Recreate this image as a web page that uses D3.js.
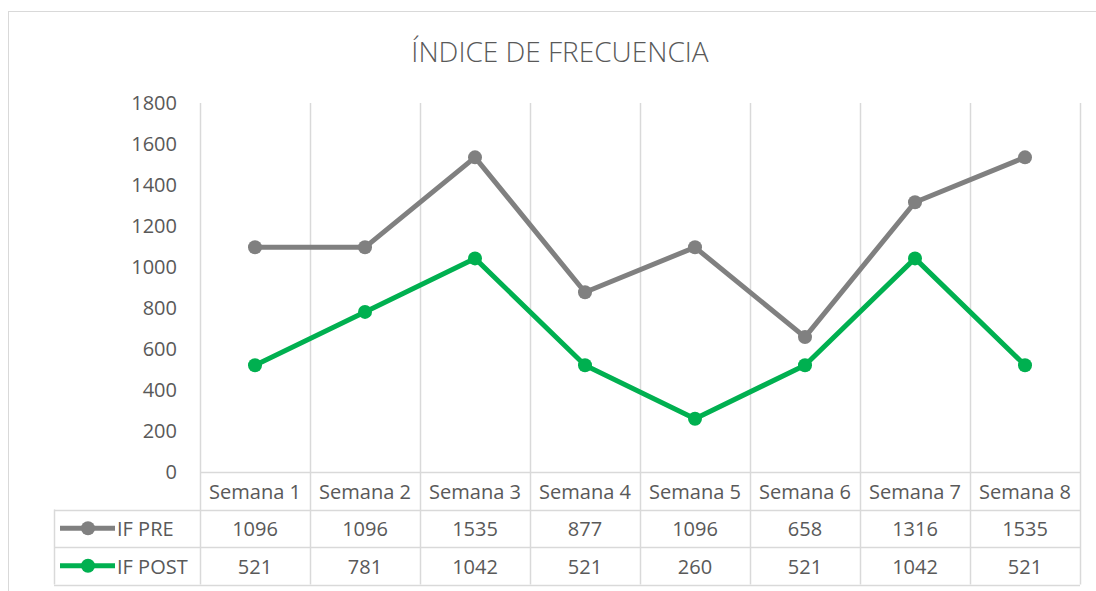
<!DOCTYPE html>
<html lang="es">
<head>
  <meta charset="UTF-8" />
  <title>Índice de frecuencia</title>
  <script src="https://d3js.org/d3.v7.min.js"></script>
  <style>
    body { margin: 0; background: #fff; font-family: "Open Sans", "Noto Sans", sans-serif; }
    svg { display: block; }
    text { fill: #595959; }
  </style>
</head>
<body>
  <svg id="chart" width="1096" height="591"></svg>
  <script>
    // data
    const categories = ["Semana 1", "Semana 2", "Semana 3", "Semana 4", "Semana 5", "Semana 6", "Semana 7", "Semana 8"];
    const ifPre = [1096, 1096, 1535, 877, 1096, 658, 1316, 1535];
    const ifPost = [521, 781, 1042, 521, 260, 521, 1042, 521];
    const yTicks = [0, 200, 400, 600, 800, 1000, 1200, 1400, 1600, 1800];

    const series = [
      { name: "IF PRE", values: ifPre, color: "#808080" },
      { name: "IF POST", values: ifPost, color: "#00B050" }
    ];

    const W = 1096, H = 591;
    const plot = { left: 200, right: 1080, top: 103, bottom: 472 };
    const rowH = 37.5;
    const legendLeft = 54;
    const gridColor = "#d9d9d9";
    const fs = 20;

    const svg = d3.select("#chart");

    // outer chart border
    svg.append("rect")
      .attr("x", 8.5).attr("y", 11.5)
      .attr("width", W + 10).attr("height", H)
      .attr("fill", "none").attr("stroke", gridColor);

    // title
    svg.append("text")
      .attr("x", 560).attr("y", 62)
      .attr("text-anchor", "middle")
      .attr("font-size", 28)
      .attr("font-weight", 300)
      .text("ÍNDICE DE FRECUENCIA");

    // scales
    const x = d3.scaleBand().domain(categories).range([plot.left, plot.right]).padding(0);
    const y = d3.scaleLinear().domain([0, 1800]).range([plot.bottom, plot.top]);

    const tableBottom = plot.bottom + rowH * 3;

    // vertical gridlines through plot and table
    const edges = categories.map(c => x(c)).concat([plot.right]);
    svg.append("g").selectAll("line")
      .data(edges)
      .join("line")
      .attr("x1", d => Math.round(d) + 0.5).attr("x2", d => Math.round(d) + 0.5)
      .attr("y1", plot.top).attr("y2", tableBottom)
      .attr("stroke", gridColor).attr("stroke-width", 1.5);

    // table horizontal lines
    const hLines = [
      { y: plot.bottom, x1: plot.left },
      { y: plot.bottom + rowH, x1: legendLeft },
      { y: plot.bottom + rowH * 2, x1: legendLeft },
      { y: tableBottom, x1: legendLeft }
    ];
    svg.append("g").selectAll("line")
      .data(hLines)
      .join("line")
      .attr("x1", d => d.x1).attr("x2", plot.right)
      .attr("y1", d => Math.round(d.y) + 0.5).attr("y2", d => Math.round(d.y) + 0.5)
      .attr("stroke", gridColor).attr("stroke-width", 1.5);
    svg.append("line")
      .attr("x1", legendLeft + 0.5).attr("x2", legendLeft + 0.5)
      .attr("y1", plot.bottom + rowH).attr("y2", tableBottom)
      .attr("stroke", gridColor).attr("stroke-width", 1.5);

    // y axis labels
    svg.append("g").selectAll("text")
      .data(yTicks)
      .join("text")
      .attr("x", 177)
      .attr("y", d => y(d))
      .attr("dy", "0.35em")
      .attr("text-anchor", "end")
      .attr("font-size", fs)
      .text(d => d);

    // category labels (table header row)
    svg.append("g").selectAll("text")
      .data(categories)
      .join("text")
      .attr("x", d => x(d) + x.bandwidth() / 2)
      .attr("y", plot.bottom + rowH / 2 + 1)
      .attr("dy", "0.35em")
      .attr("text-anchor", "middle")
      .attr("font-size", fs)
      .attr("textLength", 92)
      .attr("lengthAdjust", "spacingAndGlyphs")
      .text(d => d);

    // lines and markers
    const line = d3.line()
      .x((d, i) => x(categories[i]) + x.bandwidth() / 2)
      .y(d => y(d));

    series.forEach((s, si) => {
      svg.append("path")
        .datum(s.values)
        .attr("d", line)
        .attr("fill", "none")
        .attr("stroke", s.color)
        .attr("stroke-width", 5)
        .attr("stroke-linejoin", "round");

      svg.append("g").selectAll("circle")
        .data(s.values)
        .join("circle")
        .attr("cx", (d, i) => x(categories[i]) + x.bandwidth() / 2)
        .attr("cy", d => y(d))
        .attr("r", 7)
        .attr("fill", s.color);

      // table row
      const rowY = plot.bottom + rowH * (si + 1) + rowH / 2;
      svg.append("line")
        .attr("x1", 60).attr("x2", 115)
        .attr("y1", rowY).attr("y2", rowY)
        .attr("stroke", s.color).attr("stroke-width", 5);
      svg.append("circle")
        .attr("cx", 88).attr("cy", rowY).attr("r", 7)
        .attr("fill", s.color);
      svg.append("text")
        .attr("x", 117).attr("y", rowY + 1)
        .attr("dy", "0.35em")
        .attr("font-size", fs)
        .text(s.name);

      svg.append("g").selectAll("text")
        .data(s.values)
        .join("text")
        .attr("x", (d, i) => x(categories[i]) + x.bandwidth() / 2)
        .attr("y", rowY + 1)
        .attr("dy", "0.35em")
        .attr("text-anchor", "middle")
        .attr("font-size", fs)
        .text(d => d);
    });
  </script>
</body>
</html>
